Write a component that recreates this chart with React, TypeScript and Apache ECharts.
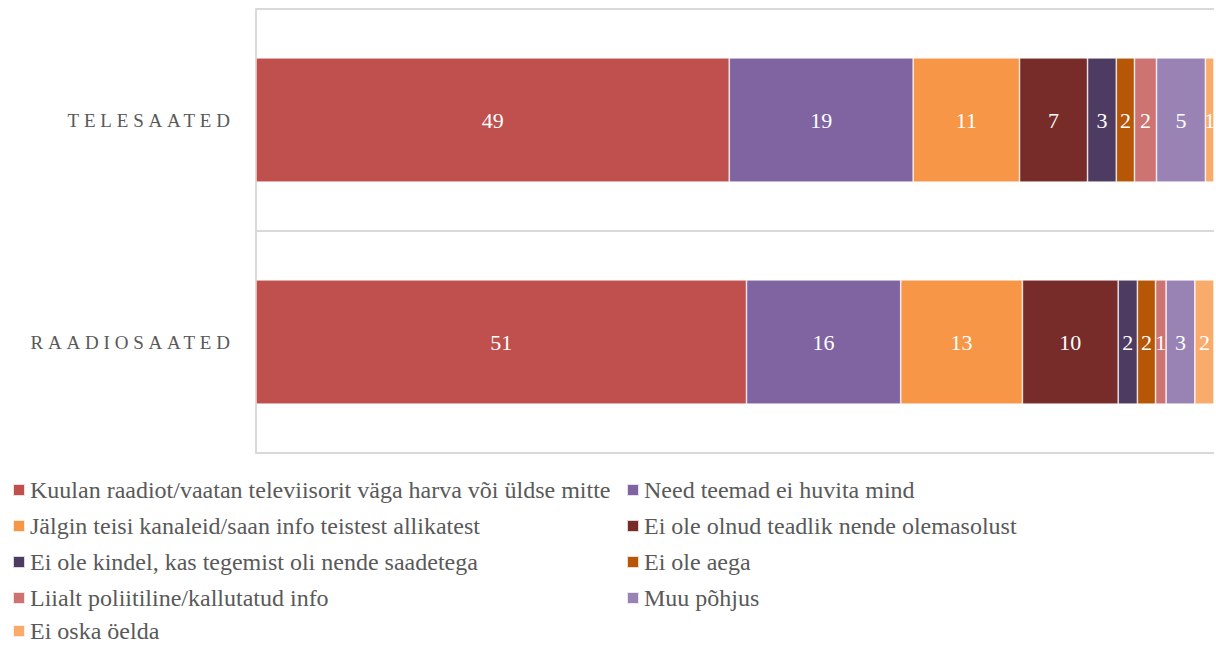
import React, { useEffect, useRef } from "react";
import * as echarts from "echarts";

const categories = ["TELESAATED", "RAADIOSAATED"];

const seriesNames = [
  "Kuulan raadiot/vaatan televiisorit väga harva või üldse mitte",
  "Need teemad ei huvita mind",
  "Jälgin teisi kanaleid/saan info teistest allikatest",
  "Ei ole olnud teadlik nende olemasolust",
  "Ei ole kindel, kas tegemist oli nende saadetega",
  "Ei ole aega",
  "Liialt poliitiline/kallutatud info",
  "Muu põhjus",
  "Ei oska öelda",
];

const teleValues = [49.4, 19.2, 11.1, 7.1, 3.0, 1.9, 2.3, 5.1, 0.9];
const raadioValues = [51.2, 16.1, 12.7, 10.0, 2.0, 1.9, 1.1, 3.0, 2.0];

const colors = [
  "#C0504D",
  "#8064A2",
  "#F79646",
  "#772C2A",
  "#4D3B62",
  "#B65708",
  "#CD7371",
  "#9983B5",
  "#F9AB6B",
];

const FONT = "'Liberation Serif', 'Times New Roman', serif";
const LETTER_SPACING = 4.8;

export default function App() {
  const ref = useRef<HTMLDivElement>(null);

  useEffect(() => {
    if (!ref.current) return;
    const chart = echarts.init(ref.current, null, { renderer: "svg" });

    const series = seriesNames.map((name, i) => ({
      name,
      type: "bar",
      stack: "total",
      barWidth: "56%",
      data: [teleValues[i], raadioValues[i]],
      itemStyle: { color: colors[i], borderColor: "rgba(255,255,255,0.8)", borderWidth: 0.7 },
      label: {
        show: true,
        position: "inside",
        color: "#ffffff",
        fontFamily: FONT,
        fontSize: 22,
        formatter: (p: any) => String(Math.round(p.value)),
      },
    }));

    const legendText = { color: "#595959", fontFamily: FONT, fontSize: 24 };
    const ROW_TOP = 478;
    const ROW_STEP = 36;
    const legendBase = {
      orient: "vertical",
      padding: 0,
      icon: "rect",
      itemWidth: 12,
      itemHeight: 12,
      itemGap: ROW_STEP - 24,
      textStyle: legendText,
    };

    chart.setOption({
      animation: false,
      backgroundColor: "#ffffff",
      grid: { left: 256, right: 2, top: 9, bottom: 192, containLabel: false },
      xAxis: {
        type: "value",
        min: 0,
        max: 100,
        show: false,
      },
      yAxis: {
        type: "category",
        inverse: true,
        data: categories,
        axisLine: { show: true, lineStyle: { color: "#D9D9D9", width: 2 } },
        axisTick: { show: false },
        splitLine: { show: true, lineStyle: { color: "#D9D9D9", width: 2 } },
        axisLabel: {
          color: "#595959",
          fontFamily: FONT,
          fontSize: 19,
          margin: 26 - LETTER_SPACING,
        },
      },
      legend: [
        {
          ...legendBase,
          left: 12,
          top: ROW_TOP,
          data: [seriesNames[0], seriesNames[2], seriesNames[4], seriesNames[6]],
        },
        {
          ...legendBase,
          left: 12,
          top: ROW_TOP + 4 * ROW_STEP - 3,
          data: [seriesNames[8]],
        },
        {
          ...legendBase,
          left: 626,
          top: ROW_TOP,
          data: [seriesNames[1], seriesNames[3], seriesNames[5], seriesNames[7]],
        },
      ],
      series,
    });

    const applySpacing = () => {
      const el = ref.current;
      if (!el) return;
      el.querySelectorAll("text").forEach((t) => {
        if (categories.includes((t.textContent || "").trim())) {
          t.setAttribute("letter-spacing", String(LETTER_SPACING));
        }
      });
    };
    applySpacing();
    chart.on("finished", applySpacing);
    chart.on("rendered", applySpacing);

    return () => {
      chart.dispose();
    };
  }, []);

  return (
    <div
      ref={ref}
      style={{ position: "fixed", left: 0, top: 0, width: 1216, height: 645 }}
    />
  );
}
